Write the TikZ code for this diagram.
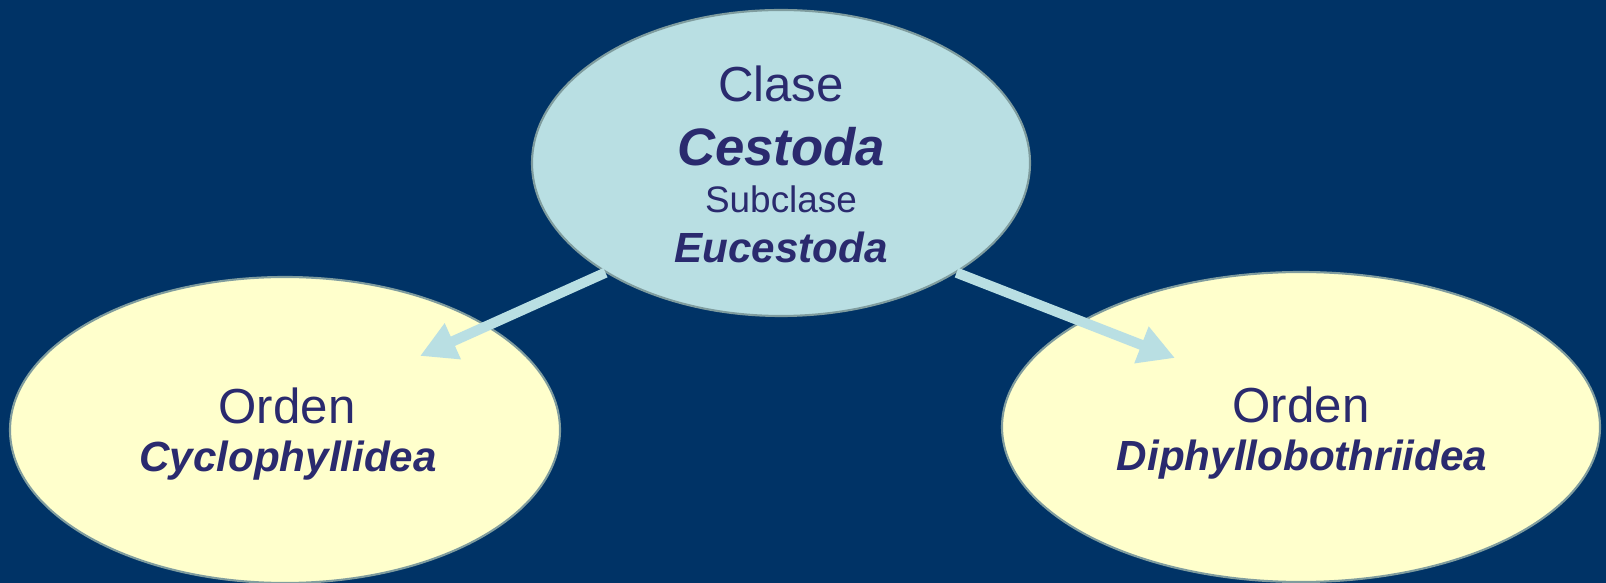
\documentclass[tikz,border=0pt]{standalone}
\usepackage{fontspec}
\setmainfont{Liberation Sans}
\usetikzlibrary{positioning, calc, arrows.meta, shapes.geometric}
\definecolor{navybg}{HTML}{003366}
\definecolor{clsfill}{HTML}{B9DFE3}
\definecolor{ordfill}{HTML}{FFFFCC}
\definecolor{rimgray}{HTML}{7F9C9E}
\definecolor{inkblue}{HTML}{2A2A6E}

\begin{document}
\begin{tikzpicture}[
  every node/.style={text=inkblue},
  oval/.style={ellipse, draw=rimgray, line width=1.2pt, inner sep=0pt},
  rank/.style={anchor=base, font=\fontsize{28}{32}\selectfont},
  taxon/.style={anchor=base, font=\fontsize{24}{28}\selectfont\bfseries\itshape},
  link/.style={draw=clsfill, line width=5.8pt,
    -{Triangle[length=0.72cm, width=0.74cm]}},
]

% Background
\useasboundingbox (0,0) rectangle (32.12,11.66);
\fill[navybg] (0,0) rectangle (32.12,11.66);

% Ellipses
\node[oval, fill=clsfill, minimum width=9.96cm, minimum height=6.12cm] (cls) at (15.62, 8.40) {};
\node[oval, fill=ordfill, minimum width=11.0cm, minimum height=6.12cm] (cyc) at (5.70, 3.06) {};
\node[oval, fill=ordfill, minimum width=11.96cm, minimum height=6.2cm] (dip) at (26.02, 3.12) {};

% Class labels
\node[rank] (clsA) at (15.62, 9.62) {Clase};
\node[taxon, font=\fontsize{30}{34}\selectfont\bfseries\itshape] (clsB) at (15.62, 8.34) {Cestoda};
\node[rank, font=\fontsize{21}{25}\selectfont] (clsC) at (15.62, 7.40) {Subclase};
\node[taxon] (clsD) at (15.62, 6.40) {Eucestoda};

% Order labels
\node[rank] (cycA) at (5.74, 3.18) {Orden};
\node[taxon] (cycB) at (5.76, 2.22) {Cyclophyllidea};
\node[rank] (dipA) at (26.02, 3.20) {Orden};
\node[taxon] (dipB) at (26.04, 2.24) {Diphyllobothriidea};

% Arrows
\coordinate (cycTip) at (8.40, 4.54);
\coordinate (dipTip) at (23.50, 4.50);
\draw[link] (cls.212.7) -- (cycTip);
\draw[link] (cls.328.7) -- (dipTip);

\end{tikzpicture}
\end{document}
